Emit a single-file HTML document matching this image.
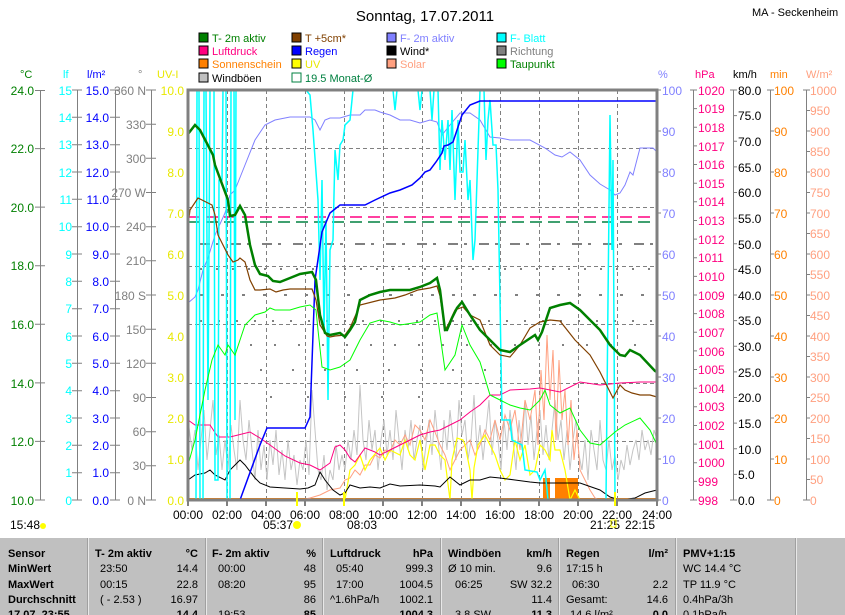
<!DOCTYPE html>
<html><head><meta charset="utf-8"><style>
html,body{margin:0;padding:0;background:#fff;}
svg{display:block;font-family:"Liberation Sans",sans-serif;}
</style></head><body>
<svg width="845" height="615" viewBox="0 0 845 615" xmlns="http://www.w3.org/2000/svg">
<rect width="845" height="615" fill="#fff"/>
<text x="425" y="21" font-size="15" text-anchor="middle" fill="#000">Sonntag, 17.07.2011</text>
<text x="752" y="16" font-size="11" fill="#000">MA - Seckenheim</text>

<g font-size="11">
<rect x="199" y="33" width="9" height="9" fill="#008000" stroke="#000"/><text x="212" y="42" fill="#008000">T- 2m aktiv</text>
<rect x="292" y="33" width="9" height="9" fill="#804000" stroke="#000"/><text x="305" y="42" fill="#804000">T +5cm*</text>
<rect x="387" y="33" width="9" height="9" fill="#8080ff" stroke="#000"/><text x="400" y="42" fill="#8080ff">F- 2m aktiv</text>
<rect x="497" y="33" width="9" height="9" fill="#00ffff" stroke="#000"/><text x="510" y="42" fill="#00ffff">F- Blatt</text>
<rect x="199" y="46" width="9" height="9" fill="#ff0080" stroke="#000"/><text x="212" y="55" fill="#ff0080">Luftdruck</text>
<rect x="292" y="46" width="9" height="9" fill="#0000ff" stroke="#000"/><text x="305" y="55" fill="#0000ff">Regen</text>
<rect x="387" y="46" width="9" height="9" fill="#000" stroke="#000"/><text x="400" y="55" fill="#000">Wind*</text>
<rect x="497" y="46" width="9" height="9" fill="#808080" stroke="#000"/><text x="510" y="55" fill="#808080">Richtung</text>
<rect x="199" y="59" width="9" height="9" fill="#ff8000" stroke="#000"/><text x="212" y="68" fill="#ff8000">Sonnenschein</text>
<rect x="292" y="59" width="9" height="9" fill="#ffff00" stroke="#000"/><text x="305" y="68" fill="#e8e800">UV</text>
<rect x="387" y="59" width="9" height="9" fill="#ffa080" stroke="#000"/><text x="400" y="68" fill="#ffa080">Solar</text>
<rect x="497" y="59" width="9" height="9" fill="#00ff00" stroke="#000"/><text x="510" y="68" fill="#008000">Taupunkt</text>
<rect x="199" y="73" width="9" height="9" fill="#c0c0c0" stroke="#000"/><text x="212" y="82" fill="#000">Windböen</text>
<rect x="292" y="73" width="9" height="9" fill="#fff" stroke="#008040"/><text x="305" y="82" fill="#008040">19.5 Monat-Ø</text>
</g>

<g font-size="11">
<text x="20" y="78" fill="#008000">°C</text>
<text x="63" y="78" fill="#00ffff">lf</text>
<text x="87" y="78" fill="#0000ff">l/m²</text>
<text x="138" y="78" fill="#808080">°</text>
<text x="157" y="78" fill="#e8e800">UV-I</text>
<text x="658" y="78" fill="#8080ff">%</text>
<text x="695" y="78" fill="#ff0080">hPa</text>
<text x="733" y="78" fill="#000">km/h</text>
<text x="770" y="78" fill="#ff8000">min</text>
<text x="806" y="78" fill="#ffa080">W/m²</text>
</g>

<g stroke="#808080" stroke-width="1" fill="none">
<path d="M40.5 90V500M77.5 90V500M115.5 90V500M151.5 90V500"/>
<path d="M35 90.5h10M35 148.6h10M35 207.1h10M35 265.7h10M35 324.3h10M35 382.9h10M35 441.4h10M35 500h10"/>
<path d="M72 90h10M72 117.3h10M72 144.7h10M72 172h10M72 199.3h10M72 226.7h10M72 254h10M72 281.3h10M72 308.7h10M72 336h10M72 363.3h10M72 390.7h10M72 418h10M72 445.3h10M72 472.7h10M72 500h10"/>
<path d="M110 90h10M110 117.3h10M110 144.7h10M110 172h10M110 199.3h10M110 226.7h10M110 254h10M110 281.3h10M110 308.7h10M110 336h10M110 363.3h10M110 390.7h10M110 418h10M110 445.3h10M110 472.7h10M110 500h10"/>
<path d="M146 90h10M146 124.2h10M146 158.3h10M146 192.5h10M146 226.7h10M146 260.8h10M146 295h10M146 329.2h10M146 363.3h10M146 397.5h10M146 431.7h10M146 465.8h10M146 500h10"/>
</g>
<g font-size="12" text-anchor="end">
<g fill="#008000">
<text x="34" y="95">24.0</text><text x="34" y="212">20.0</text><text x="34" y="153">22.0</text><text x="34" y="270">18.0</text><text x="34" y="329">16.0</text><text x="34" y="388">14.0</text><text x="34" y="446">12.0</text><text x="34" y="505">10.0</text>
</g>
<g fill="#00ffff">
<text x="72" y="95">15</text><text x="72" y="122">14</text><text x="72" y="149">13</text><text x="72" y="177">12</text><text x="72" y="204">11</text><text x="72" y="231">10</text><text x="72" y="259">9</text><text x="72" y="286">8</text><text x="72" y="313">7</text><text x="72" y="341">6</text><text x="72" y="368">5</text><text x="72" y="395">4</text><text x="72" y="423">3</text><text x="72" y="450">2</text><text x="72" y="477">1</text><text x="72" y="505">0</text>
</g>
<g fill="#0000ff">
<text x="109" y="95">15.0</text><text x="109" y="122">14.0</text><text x="109" y="149">13.0</text><text x="109" y="177">12.0</text><text x="109" y="204">11.0</text><text x="109" y="231">10.0</text><text x="109" y="259">9.0</text><text x="109" y="286">8.0</text><text x="109" y="313">7.0</text><text x="109" y="341">6.0</text><text x="109" y="368">5.0</text><text x="109" y="395">4.0</text><text x="109" y="423">3.0</text><text x="109" y="450">2.0</text><text x="109" y="477">1.0</text><text x="109" y="505">0.0</text>
</g>
<g fill="#808080">
<text x="146" y="95">360 N</text><text x="146" y="129">330</text><text x="146" y="163">300</text><text x="146" y="197">270 W</text><text x="146" y="231">240</text><text x="146" y="265">210</text><text x="146" y="300">180 S</text><text x="146" y="334">150</text><text x="146" y="368">120</text><text x="146" y="402">90</text><text x="146" y="436">60</text><text x="146" y="470">30</text><text x="146" y="505">0 N</text>
</g>
<g fill="#e8e800">
<text x="184" y="95">10.0</text><text x="184" y="136">9.0</text><text x="184" y="177">8.0</text><text x="184" y="218">7.0</text><text x="184" y="259">6.0</text><text x="184" y="300">5.0</text><text x="184" y="341">4.0</text><text x="184" y="382">3.0</text><text x="184" y="423">2.0</text><text x="184" y="464">1.0</text><text x="184" y="505">0.0</text>
</g>
</g>

<g stroke="#808080" stroke-width="1" fill="none">
<path d="M693.5 90V500M733.5 90V500M770.5 90V500M806.5 90V500"/>
<path d="M657 90h4M657 131h4M657 172h4M657 213h4M657 254h4M657 295h4M657 336h4M657 377h4M657 418h4M657 459h4M657 500h4"/>
<path d="M690 90h7M693 108.6h4M693 127.3h4M693 145.9h4M693 164.5h4M693 183.2h4M693 201.8h4M693 220.5h4M693 239.1h4M693 257.7h4M693 276.4h4M693 295h4M693 313.6h4M693 332.3h4M693 350.9h4M693 369.5h4M693 388.2h4M693 406.8h4M693 425.5h4M693 444.1h4M693 462.7h4M693 481.4h4M690 500h7"/>
<path d="M730 90h7M733 115.6h4M733 141.3h4M733 166.9h4M733 192.5h4M733 218.1h4M733 243.8h4M733 269.4h4M733 295h4M733 320.6h4M733 346.3h4M733 371.9h4M733 397.5h4M733 423.1h4M733 448.8h4M733 474.4h4M730 500h7"/>
<path d="M767 90h7M770 131h4M770 172h4M770 213h4M770 254h4M770 295h4M770 336h4M770 377h4M770 418h4M770 459h4M767 500h7"/>
<path d="M803 90h7M806 110.5h4M806 131h4M806 151.5h4M806 172h4M806 192.5h4M806 213h4M806 233.5h4M806 254h4M806 274.5h4M806 295h4M806 315.5h4M806 336h4M806 356.5h4M806 377h4M806 397.5h4M806 418h4M806 438.5h4M806 459h4M806 479.5h4M803 500h7"/>
</g>
<g font-size="12">
<g fill="#8080ff">
<text x="662" y="95">100</text><text x="662" y="136">90</text><text x="662" y="177">80</text><text x="662" y="218">70</text><text x="662" y="259">60</text><text x="662" y="300">50</text><text x="662" y="341">40</text><text x="662" y="382">30</text><text x="662" y="423">20</text><text x="662" y="464">10</text><text x="662" y="505">0</text>
</g>
<g fill="#ff0080">
<text x="698" y="95">1020</text><text x="698" y="113">1019</text><text x="698" y="132">1018</text><text x="698" y="151">1017</text><text x="698" y="169">1016</text><text x="698" y="188">1015</text><text x="698" y="206">1014</text><text x="698" y="225">1013</text><text x="698" y="244">1012</text><text x="698" y="262">1011</text><text x="698" y="281">1010</text><text x="698" y="300">1009</text><text x="698" y="318">1008</text><text x="698" y="337">1007</text><text x="698" y="356">1006</text><text x="698" y="374">1005</text><text x="698" y="393">1004</text><text x="698" y="411">1003</text><text x="698" y="430">1002</text><text x="698" y="449">1001</text><text x="698" y="467">1000</text><text x="698" y="486">999</text><text x="698" y="505">998</text>
</g>
<g fill="#000">
<text x="738" y="95">80.0</text><text x="738" y="120">75.0</text><text x="738" y="146">70.0</text><text x="738" y="172">65.0</text><text x="738" y="197">60.0</text><text x="738" y="223">55.0</text><text x="738" y="249">50.0</text><text x="738" y="274">45.0</text><text x="738" y="300">40.0</text><text x="738" y="325">35.0</text><text x="738" y="351">30.0</text><text x="738" y="377">25.0</text><text x="738" y="402">20.0</text><text x="738" y="428">15.0</text><text x="738" y="454">10.0</text><text x="738" y="479">5.0</text><text x="738" y="505">0.0</text>
</g>
<g fill="#ff8000">
<text x="774" y="95">100</text><text x="774" y="136">90</text><text x="774" y="177">80</text><text x="774" y="218">70</text><text x="774" y="259">60</text><text x="774" y="300">50</text><text x="774" y="341">40</text><text x="774" y="382">30</text><text x="774" y="423">20</text><text x="774" y="464">10</text><text x="774" y="505">0</text>
</g>
<g fill="#ffa080">
<text x="810" y="95">1000</text><text x="810" y="115">950</text><text x="810" y="136">900</text><text x="810" y="156">850</text><text x="810" y="177">800</text><text x="810" y="197">750</text><text x="810" y="218">700</text><text x="810" y="238">650</text><text x="810" y="259">600</text><text x="810" y="279">550</text><text x="810" y="300">500</text><text x="810" y="320">450</text><text x="810" y="341">400</text><text x="810" y="361">350</text><text x="810" y="382">300</text><text x="810" y="402">250</text><text x="810" y="423">200</text><text x="810" y="443">150</text><text x="810" y="464">100</text><text x="810" y="484">50</text><text x="810" y="505">0</text>
</g>
</g>

<g stroke="#808080" stroke-width="1" stroke-dasharray="4,3" fill="none">
<path d="M227.5 90V500M266.5 90V500M305.5 90V500M344.5 90V500M383.5 90V500M422.5 90V500M461.5 90V500M500.5 90V500M539.5 90V500M578.5 90V500M617.5 90V500"/>
<path d="M188 148.5H657M188 207.5H657M188 266.5H657M188 324.5H657M188 383.5H657M188 441.5H657"/>
</g>

<g stroke="#808080" stroke-width="2" fill="none">
<path d="M200 244H657" stroke-dasharray="10,6,3,12"/>
<path d="M200 269H657" stroke-dasharray="2,14"/>
<path d="M200 295H657" stroke-dasharray="3,18"/>
<path d="M200 321H657" stroke-dasharray="2,16"/>
<path d="M250 345H657" stroke-dasharray="2,22"/>
<path d="M260 370H500" stroke-dasharray="2,30"/>
<path d="M270 397H420" stroke-dasharray="2,35"/>
</g>

<path d="M188 217H657" stroke="#ff0080" stroke-width="1.5" stroke-dasharray="12,6"/>
<path d="M188 222H657" stroke="#008040" stroke-width="1.5" stroke-dasharray="12,6"/>

<polyline fill="none" stroke="#c4c4c4" stroke-width="1" points="188,420 192,450 195,430 198,470 201,440 204,410 207,460 210,430 213,400 216,455 219,435 222,470 225,440 228,470 231,425 234,450 237,470 240,400 243,440 246,460 249,420 252,450 255,480 258,430 261,470 264,445 267,480 270,440 273,465 276,430 279,475 282,450 285,480 288,440 291,470 294,455 297,485 300,460 303,470 306,440 309,475 312,390 315,430 318,470 321,480 324,455 327,490 330,470 333,480 336,445 339,470 342,455 345,470 348,440 351,460 354,430 357,455 360,385 363,440 366,460 369,420 372,450 375,430 378,470 381,440 384,420 387,455 390,430 393,460 396,410 399,440 402,470 405,430 408,450 411,420 414,460 417,440 420,425 423,470 426,445 429,420 432,455 435,410 438,440 441,470 444,420 447,450 450,410 453,440 456,460 459,400 462,435 465,420 468,460 471,440 474,395 477,450 480,425 483,460 486,430 489,400 492,455 495,420 498,440 501,470 504,420 507,450 510,410 513,440 516,470 519,420 522,450 525,400 528,445 531,415 534,460 537,430 540,410 543,455 546,425 549,460 552,430 555,400 558,440 561,420 564,460 567,430 570,470 573,440 576,420 579,455 582,470 585,440 588,480 591,430 594,450 597,470 600,420 603,460 606,470 609,440 612,470 615,455 618,480 621,460 624,470 627,445 630,465 633,450 636,440 639,460 642,430 645,450 648,440 651,455 654,430 657,440"/>

<g fill="#ff8000">
<rect x="543" y="478" width="7" height="22"/><rect x="555" y="478" width="23" height="22"/>
<rect x="188" y="498" width="469" height="2"/>
</g>

<polyline fill="none" stroke="#ffa080" stroke-width="1" points="300,500 310,498 320,495 330,490 340,488 345,480 350,478 355,470 360,475 365,465 370,465 375,455 380,458 385,450 390,452 395,440 400,445 405,435 410,445 415,425 420,430 425,440 430,420 435,432 440,445 445,455 450,470 455,460 460,450 465,445 470,440 475,455 480,445 485,430 490,440 495,420 500,440 505,415 510,430 515,410 520,450 525,400 530,420 535,390 538,445 541,370 544,420 547,335 550,400 553,350 556,440 559,360 562,420 565,390 568,445 571,400 574,460 577,430 580,470 585,480 590,490 595,498 600,500 657,500"/>

<polyline fill="none" stroke="#ffff00" stroke-width="1.2" points="300,500 345,500 350,470 355,465 360,455 365,470 370,460 380,448 385,460 390,450 400,455 405,440 410,455 415,460 420,440 425,470 430,445 435,445 440,455 445,460 450,500 452,460 457,438 463,440 465,445 470,470 472,500 474,468 478,445 485,435 490,445 495,455 500,470 505,480 510,475 515,440 520,460 525,445 530,475 535,470 540,445 545,450 550,460 552,430 555,450 560,450 565,470 570,500 575,490 580,500 657,500"/>

<polyline fill="none" stroke="#000" stroke-width="1" points="188,480 195,475 205,473 210,470 215,475 225,480 230,470 240,460 245,465 255,478 260,483 270,487 285,488 300,489 308,488 315,485 320,472 325,480 333,490 340,495 345,493 350,485 360,488 370,487 380,488 390,484 400,486 420,485 435,486 440,487 450,477 460,485 470,480 480,480 490,477 500,478 515,480 530,482 540,483 560,483 580,483 600,490 610,497 620,500 635,498 645,493 657,490"/>

<polyline fill="none" stroke="#ff0080" stroke-width="1" points="188,420 195,425 210,425 218,437 230,437 250,432 260,438 270,445 285,456 300,463 310,465 320,470 330,463 335,447 340,445 345,450 350,458 355,462 365,448 375,452 380,455 390,450 400,445 410,440 420,435 430,432 440,430 450,425 460,420 470,412 480,405 490,395 500,395 510,390 530,389 540,388 560,392 580,382 600,385 620,383 640,382 657,382"/>

<polyline fill="none" stroke="#8080ff" stroke-width="1" points="188,303 195,297 198,290 203,270 208,258 215,235 225,213 230,195 235,190 245,165 255,140 265,125 275,120 290,117 310,117 315,120 320,130 325,120 330,118 340,118 350,115 360,115 365,110 375,110 380,112 390,115 400,120 410,120 420,123 430,120 437,122 442,135 450,125 460,113 470,113 480,120 490,137 500,138 510,140 520,140 530,140 545,148 555,155 562,157 570,152 580,160 590,175 600,184 610,190 615,195 620,193 625,185 630,172 633,175 640,148 653,148 657,152"/>

<polyline fill="none" stroke="#00ffff" stroke-width="1.5" points="188,500 196,500 197,90 199,90 200,500 203,500 204,90 206,90 208,400 210,90 214,90 215,480 218,480 219,180 222,180 223,90 226,90 227,500 230,500 231,90 234,90 235,420 236,90 240,90 306,90 310,95 313,130 318,200 320,280 322,180 324,330 326,220 328,400 330,250 333,240 335,150 338,180 340,145 343,140 345,125 350,120 353,90 393,90 395,110 397,90 418,90 420,110 422,90 430,90 432,120 434,90 438,90 440,170 442,120 445,160 448,120 450,170 452,110 455,200 458,120 460,172 463,172 465,140 468,200 470,180 473,260 475,240 478,150 480,90 484,90 486,160 488,120 490,100 493,145 496,145 498,190 500,300 502,420 510,420 512,440 522,445 525,470 537,472 540,480 545,470 548,500 606,500 608,300 610,115 612,250 613,160 615,500 657,500"/>

<polyline fill="none" stroke="#0000ff" stroke-width="1.5" points="188,500 240,500 248,478 260,445 267,428 305,428 310,417 315,280 322,232 330,213 340,205 365,205 375,200 390,193 400,190 412,185 420,178 425,172 430,170 436,162 442,153 444,146 448,145 453,142 457,130 462,115 470,105 480,101 657,101"/>

<polyline fill="none" stroke="#00ff00" stroke-width="1" points="188,465 195,440 205,390 212,360 218,345 225,355 228,345 235,355 245,325 255,315 265,312 270,308 275,310 290,310 300,307 310,305 316,310 318,330 322,367 330,370 340,367 350,360 360,340 370,323 380,320 390,322 400,325 420,322 430,315 437,313 445,370 455,355 462,325 470,345 480,362 490,395 500,400 510,405 520,408 530,410 540,400 545,390 550,405 560,413 570,408 580,430 590,443 600,445 615,432 625,425 640,418 650,430 657,445"/>

<polyline fill="none" stroke="#804000" stroke-width="1.2" points="188,225 190,210 198,198 212,205 215,215 218,235 228,255 233,262 238,260 240,258 245,262 250,280 255,290 260,290 270,289 276,292 283,290 290,289 300,289 312,289 316,300 320,325 327,336 330,337 335,336 345,335 350,328 360,305 380,300 395,298 405,295 418,290 430,288 437,286 440,296 445,330 448,325 455,310 463,307 470,315 480,320 490,345 500,355 510,357 520,345 530,328 540,322 550,320 560,321 575,340 590,355 600,372 613,398 620,385 625,390 632,393 640,395 650,395 657,397"/>

<polyline fill="none" stroke="#008000" stroke-width="2.5" points="188,134 195,125 200,130 213,155 215,165 228,200 230,216 235,215 240,206 245,215 250,245 255,265 260,274 268,276 273,281 280,282 290,278 300,274 312,272 316,280 320,315 325,333 330,335 340,333 345,337 350,330 355,322 360,300 370,295 380,292 390,290 410,290 420,287 430,283 437,278 440,290 445,330 447,330 452,318 457,308 462,302 470,315 480,330 490,340 500,350 510,352 520,345 535,335 538,340 542,332 550,308 560,305 570,303 580,310 590,320 600,330 610,345 620,355 625,356 630,350 640,355 655,371 657,372"/>

<rect x="188" y="90" width="469" height="410" fill="none" stroke="#808080" stroke-width="3"/>
<g stroke="#808080" stroke-width="2"><path d="M188 500v6M227 500v6M266 500v6M305 500v6M344 500v6M383 500v6M422 500v6M461 500v6M500 500v6M539 500v6M578 500v6M617 500v6M657 500v6"/></g>
<path d="M297 492v14M344 492v14M615 492v14" stroke="#ffff00" stroke-width="2"/>

<g font-size="12" text-anchor="middle" fill="#000">
<text x="188" y="519">00:00</text><text x="227" y="519">02:00</text><text x="266" y="519">04:00</text><text x="305" y="519">06:00</text><text x="344" y="519">08:00</text><text x="383" y="519">10:00</text><text x="422" y="519">12:00</text><text x="461" y="519">14:00</text><text x="500" y="519">16:00</text><text x="539" y="519">18:00</text><text x="578" y="519">20:00</text><text x="617" y="519">22:00</text><text x="657" y="519">24:00</text>
</g>
<g font-size="12" fill="#000">
<text x="10" y="529">15:48</text><circle cx="43" cy="526" r="3" fill="#ffff00"/>
<text x="263" y="529">05:37</text><circle cx="297" cy="525" r="4" fill="#ffff00"/>
<text x="347" y="529">08:03</text>
<text x="590" y="529">21:25</text><rect x="611" y="520" width="5" height="7" fill="none" stroke="#ffff00"/>
<text x="625" y="529">22:15</text>
</g>

<rect x="0" y="538" width="845" height="77" fill="#c0c0c0"/>
<g stroke="#a0a0a0" stroke-width="1"><path d="M87.5 538V615M205.5 538V615M322.5 538V615M440.5 538V615M558.5 538V615M675.5 538V615M795.5 538V615"/></g>
<g stroke="#e8e8e8" stroke-width="1"><path d="M88.5 538V615M206.5 538V615M323.5 538V615M441.5 538V615M559.5 538V615M676.5 538V615M796.5 538V615"/></g>
<g font-size="11" fill="#000">
<g font-weight="bold">
<text x="8" y="557">Sensor</text><text x="8" y="572">MinWert</text><text x="8" y="588">MaxWert</text><text x="8" y="603">Durchschnitt</text><text x="8" y="618">17.07. 23:55</text>
<text x="95" y="557">T- 2m aktiv</text><text x="198" y="557" text-anchor="end">°C</text>
<text x="212" y="557">F- 2m aktiv</text><text x="316" y="557" text-anchor="end">%</text>
<text x="330" y="557">Luftdruck</text><text x="433" y="557" text-anchor="end">hPa</text>
<text x="448" y="557">Windböen</text><text x="552" y="557" text-anchor="end">km/h</text>
<text x="566" y="557">Regen</text><text x="668" y="557" text-anchor="end">l/m²</text>
<text x="683" y="557">PMV+1:15</text>
<text x="198" y="618" text-anchor="end">14.4</text><text x="316" y="618" text-anchor="end">85</text><text x="433" y="618" text-anchor="end">1004.3</text><text x="552" y="618" text-anchor="end">11.3</text><text x="668" y="618" text-anchor="end">0.0</text>
</g>
<text x="100" y="572">23:50</text><text x="198" y="572" text-anchor="end">14.4</text>
<text x="218" y="572">00:00</text><text x="316" y="572" text-anchor="end">48</text>
<text x="336" y="572">05:40</text><text x="433" y="572" text-anchor="end">999.3</text>
<text x="448" y="572">Ø 10 min.</text><text x="552" y="572" text-anchor="end">9.6</text>
<text x="566" y="572">17:15 h</text>
<text x="683" y="572">WC 14.4 °C</text>
<text x="100" y="588">00:15</text><text x="198" y="588" text-anchor="end">22.8</text>
<text x="218" y="588">08:20</text><text x="316" y="588" text-anchor="end">95</text>
<text x="336" y="588">17:00</text><text x="433" y="588" text-anchor="end">1004.5</text>
<text x="455" y="588">06:25</text><text x="552" y="588" text-anchor="end">SW 32.2</text>
<text x="572" y="588">06:30</text><text x="668" y="588" text-anchor="end">2.2</text>
<text x="683" y="588">TP 11.9 °C</text>
<text x="100" y="603">( - 2.53 )</text><text x="198" y="603" text-anchor="end">16.97</text>
<text x="316" y="603" text-anchor="end">86</text>
<text x="330" y="603">^1.6hPa/h</text><text x="433" y="603" text-anchor="end">1002.1</text>
<text x="552" y="603" text-anchor="end">11.4</text>
<text x="566" y="603">Gesamt:</text><text x="668" y="603" text-anchor="end">14.6</text>
<text x="683" y="603">0.4hPa/3h</text>
<text x="218" y="618">19:53 ...</text><text x="455" y="618">3.8 SW</text><text x="570" y="618">14.6 l/m²</text><text x="683" y="618">0.1hPa/h</text>
</g>
</svg>
</body></html>
